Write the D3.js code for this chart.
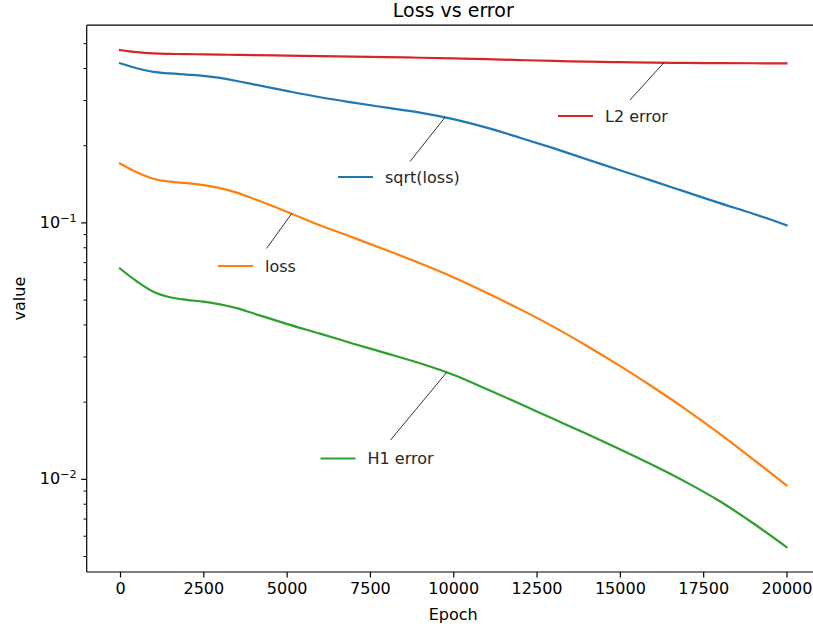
<!DOCTYPE html>
<html>
<head>
<meta charset="utf-8">
<script src="https://cdn.jsdelivr.net/npm/d3@7"></script>
<style>
  html, body { margin: 0; padding: 0; background: #fff; }
  svg { display: block; font-family: "DejaVu Sans", sans-serif; }
</style>
</head>
<body>
<svg id="chart" width="813" height="631"></svg>
<script>
// Training history, sampled at these epochs
const epochs = [0, 500, 1000, 1500, 2000, 2500, 3000, 3500, 4000, 5000, 6000, 7000, 8000, 9000, 10000,
                11000, 12000, 13000, 14000, 15000, 16000, 17000, 18000, 19000, 20000];

const l2Error = [0.472, 0.463, 0.458, 0.456, 0.455, 0.454, 0.453, 0.452, 0.451, 0.449, 0.447, 0.445, 0.443, 0.4405, 0.438,
                 0.435, 0.4315, 0.428, 0.4256, 0.4235, 0.4217, 0.4205, 0.4198, 0.4192, 0.4186];
const sqrtLoss = [0.419, 0.401, 0.388, 0.3827, 0.3786, 0.3743, 0.3674, 0.3576, 0.3470, 0.327, 0.309, 0.2944, 0.2814, 0.2692, 0.2538,
                  0.2351, 0.2149, 0.1956, 0.1772, 0.1605, 0.1455, 0.1318, 0.1194, 0.1086, 0.0979];
const loss = [0.1705, 0.1577, 0.1487, 0.1448, 0.1429, 0.1403, 0.1366, 0.1312, 0.1243, 0.1106, 0.0979, 0.0876, 0.0782, 0.0696, 0.0614,
              0.0534, 0.0461, 0.0394, 0.0332, 0.0277, 0.02286, 0.01867, 0.01505, 0.01197, 0.00948];
const h1Error = [0.0664, 0.0592, 0.0539, 0.0513, 0.0501, 0.0493, 0.0481, 0.0465, 0.0444, 0.0404, 0.0370, 0.0338, 0.0310, 0.02835, 0.02557,
                 0.02250, 0.01971, 0.01722, 0.01505, 0.01310, 0.01134, 0.00973, 0.00821, 0.00674, 0.00544];

const xTicks = [0, 2500, 5000, 7500, 10000, 12500, 15000, 17500, 20000];
const yMajorTicks = [1e-2, 1e-1];
const yMajorLabels = [["10", "\u22122"], ["10", "\u22121"]];

// Series in drawing order, with the epoch each callout points at
const series = [
  { name: "sqrt(loss)", values: sqrtLoss, color: "#1f77b4", at: 9750 },
  { name: "loss",       values: loss,     color: "#ff7f0e", at: 5150 },
  { name: "H1 error",   values: h1Error,  color: "#2ca02c", at: 9800 },
  { name: "L2 error",   values: l2Error,  color: "#d62728", at: 16320 }
];

// Where each callout label sits (pixel layout) and where its leader line ends
const callouts = {
  "sqrt(loss)": { lx: 338, ly: 177, tx: 410, ty: 161.5 },
  "loss":       { lx: 218, ly: 266, tx: 266.5, ty: 248.5 },
  "H1 error":   { lx: 320.5, ly: 458.5, tx: 390.5, ty: 440 },
  "L2 error":   { lx: 558, ly: 116, tx: 630, ty: 100 }
};

const svg = d3.select("#chart");
const plotLeft = 86.7, plotRight = 819.8, plotTop = 25.2, plotBottom = 572;

// x: data range padded by 5% on each side
const xMin = d3.min(epochs), xMax = d3.max(epochs), xPad = (xMax - xMin) * 0.05;
const x = d3.scaleLinear().domain([xMin - xPad, xMax + xPad]).range([plotLeft, plotRight]);

// y: log scale, padded by 5% in log space
const allVals = series.flatMap(s => s.values);
const lo = Math.log10(d3.min(allVals)), hi = Math.log10(d3.max(allVals));
const lPad = (hi - lo) * 0.05;
const y = d3.scaleLog().domain([Math.pow(10, lo - lPad), Math.pow(10, hi + lPad)]).range([plotBottom, plotTop]);

const fontSize = 16;

// Lines
const line = d3.line()
  .x((d, i) => x(epochs[i]))
  .y(d => y(d))
  .curve(d3.curveCatmullRom.alpha(0.5));

const plot = svg.append("g");
plot.append("defs").append("clipPath").attr("id", "clip")
  .append("rect").attr("x", plotLeft).attr("y", plotTop)
  .attr("width", plotRight - plotLeft).attr("height", plotBottom - plotTop);

series.forEach(s => {
  plot.append("path")
    .datum(s.values)
    .attr("clip-path", "url(#clip)")
    .attr("fill", "none")
    .attr("stroke", s.color)
    .attr("stroke-width", 2.2)
    .attr("stroke-linecap", "square")
    .attr("stroke-linejoin", "round")
    .attr("d", line);
});

// Callouts: leader line from the curve to a small legend entry
function valueAt(s, e) {
  const i = d3.bisectRight(epochs, e) - 1;
  const t = (e - epochs[i]) / (epochs[i + 1] - epochs[i]);
  const a = Math.log10(s.values[i]), b = Math.log10(s.values[i + 1]);
  return Math.pow(10, a + (b - a) * t);
}

series.forEach(s => {
  const c = callouts[s.name];
  svg.append("line")
    .attr("x1", x(s.at)).attr("y1", y(valueAt(s, s.at)))
    .attr("x2", c.tx).attr("y2", c.ty)
    .attr("stroke", "#000").attr("stroke-width", 0.8);
  svg.append("line")
    .attr("x1", c.lx).attr("x2", c.lx + 35)
    .attr("y1", c.ly).attr("y2", c.ly)
    .attr("stroke", s.color).attr("stroke-width", 2.2);
  svg.append("text")
    .attr("x", c.lx + 47).attr("y", c.ly)
    .attr("dy", "0.35em")
    .attr("font-size", fontSize)
    .attr("fill", "#262626")
    .text(s.name);
});

// Spines (right spine falls outside the canvas)
const axisColor = "#000";
[[plotLeft, plotLeft, plotTop, plotBottom],
 [plotLeft, plotRight, plotBottom, plotBottom],
 [plotLeft, plotRight, plotTop, plotTop],
 [plotRight, plotRight, plotTop, plotBottom]].forEach(([x1, x2, y1, y2]) => {
  svg.append("line").attr("x1", x1).attr("x2", x2).attr("y1", y1).attr("y2", y2)
    .attr("stroke", axisColor).attr("stroke-width", 1.2);
});

// x axis
const xAxis = d3.axisBottom(x).tickValues(xTicks).tickFormat(d3.format("d")).tickSize(5.5).tickPadding(5);
const gx = svg.append("g").attr("transform", `translate(0,${plotBottom})`).call(xAxis);
gx.select(".domain").remove();
gx.selectAll(".tick line").attr("stroke", axisColor).attr("stroke-width", 1.2);
gx.selectAll(".tick text").attr("font-size", fontSize).attr("fill", "#000")
  .attr("font-family", "DejaVu Sans, sans-serif");

// y axis: major decades plus minor ticks
const [yd0, yd1] = y.domain();
const minor = [];
for (let p = Math.floor(Math.log10(yd0)); p <= Math.ceil(Math.log10(yd1)); p++) {
  for (let k = 2; k <= 9; k++) {
    const v = k * Math.pow(10, p);
    if (v >= yd0 && v <= yd1) minor.push(v);
  }
}
const gy = svg.append("g");
gy.selectAll("line.minor").data(minor).join("line")
  .attr("class", "minor")
  .attr("x1", plotLeft - 3.2).attr("x2", plotLeft)
  .attr("y1", d => y(d)).attr("y2", d => y(d))
  .attr("stroke", axisColor).attr("stroke-width", 1);
gy.selectAll("line.major").data(yMajorTicks).join("line")
  .attr("class", "major")
  .attr("x1", plotLeft - 5.5).attr("x2", plotLeft)
  .attr("y1", d => y(d)).attr("y2", d => y(d))
  .attr("stroke", axisColor).attr("stroke-width", 1.2);
const yl = gy.selectAll("text.ylab").data(yMajorTicks).join("text")
  .attr("class", "ylab")
  .attr("x", plotLeft - 10).attr("y", d => y(d))
  .attr("dy", "0.32em")
  .attr("text-anchor", "end")
  .attr("font-size", fontSize)
  .attr("fill", "#000");
yl.each(function(d, i) {
  const t = d3.select(this);
  t.append("tspan").text(yMajorLabels[i][0]);
  t.append("tspan").attr("font-size", fontSize * 0.7).attr("dy", "-0.55em").text(yMajorLabels[i][1]);
});

// Axis titles and chart title
svg.append("text")
  .attr("x", (plotLeft + plotRight) / 2).attr("y", 620)
  .attr("text-anchor", "middle").attr("font-size", fontSize).attr("fill", "#000")
  .text("Epoch");
svg.append("text")
  .attr("transform", `translate(25,${(plotTop + plotBottom) / 2}) rotate(-90)`)
  .attr("text-anchor", "middle").attr("font-size", fontSize).attr("fill", "#000")
  .text("value");
svg.append("text")
  .attr("x", (plotLeft + plotRight) / 2).attr("y", 17)
  .attr("text-anchor", "middle").attr("font-size", 19).attr("fill", "#000")
  .text("Loss vs error");
</script>
</body>
</html>
